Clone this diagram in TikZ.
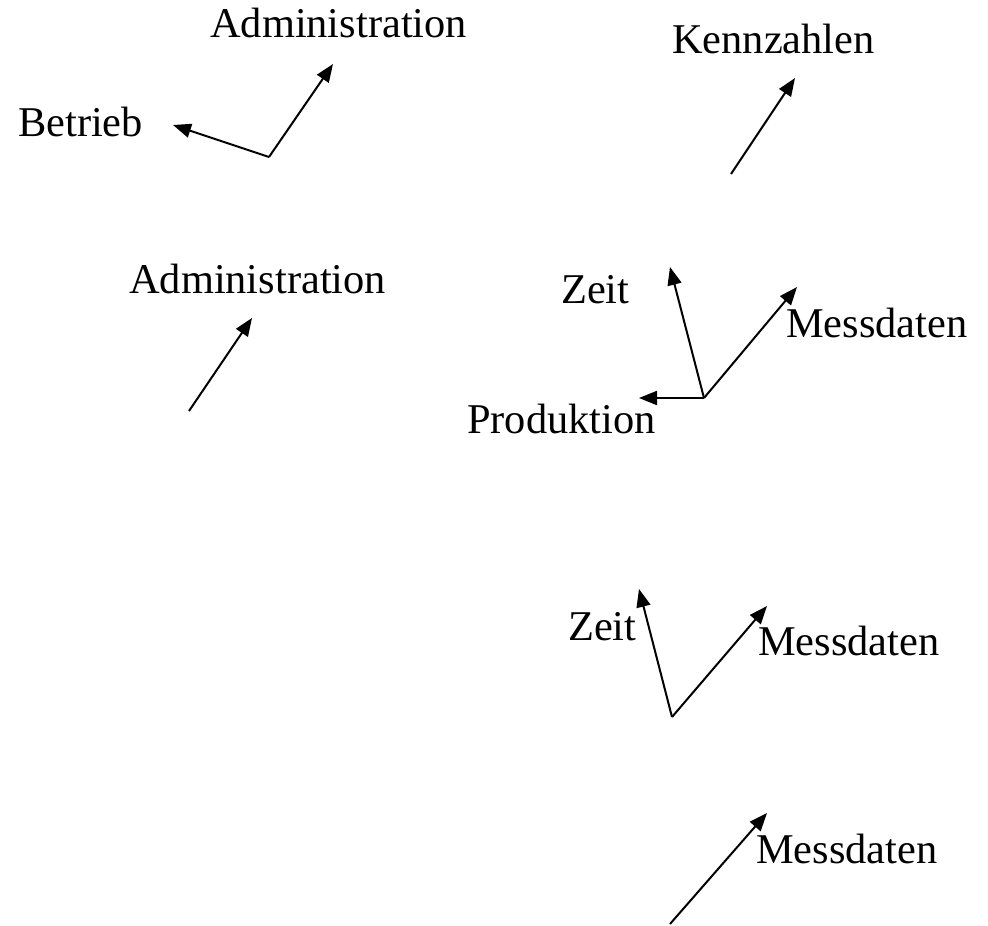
\documentclass[tikz,border=0pt]{standalone}
\usepackage{fontspec}
\setmainfont{Liberation Serif}
\usetikzlibrary{arrows.meta}
\begin{document}
\begin{tikzpicture}[x=1pt,y=-1pt,
  lbl/.style={anchor=base west,inner sep=0pt,font=\fontsize{42.4}{50}\selectfont},
  arr/.style={line width=2pt,-{Triangle[length=18pt,width=14pt]}}]
\useasboundingbox (0,0) rectangle (988,926);
% labels
\node[lbl] (adm1) at (210,37) {Administration};
\node[lbl] (betr) at (18,136) {Betrieb};
\node[lbl] (kenn) at (672,53) {Kennzahlen};
\node[lbl] (adm2) at (129,293) {Administration};
\node[lbl] (zeit1) at (561,303) {Zeit};
\node[lbl] (mess1) at (786,337) {Messdaten};
\node[lbl] (prod) at (467,433) {Produktion};
\node[lbl] (zeit2) at (568,640) {Zeit};
\node[lbl] (mess2) at (758,655) {Messdaten};
\node[lbl] (mess3) at (756,863) {Messdaten};
% coordinates
\coordinate (o1) at (269,157);
\coordinate (b1) at (173,125);
\coordinate (a1) at (333,64);
\coordinate (o2) at (731,174);
\coordinate (k2) at (795,78);
\coordinate (o3) at (189,411);
\coordinate (a3) at (252,318);
\coordinate (o4) at (704,398);
\coordinate (z4) at (670,267);
\coordinate (m4) at (797,287);
\coordinate (p4) at (639,398);
\coordinate (o5) at (672,717);
\coordinate (z5) at (639,589);
\coordinate (m5) at (767,606);
\coordinate (o6) at (670,924);
\coordinate (m6) at (767,813);
% arrows
\draw[arr] (o1) -- (b1);
\draw[arr] (o1) -- (a1);
\draw[arr] (o2) -- (k2);
\draw[arr] (o3) -- (a3);
\draw[arr] (o4) -- (z4);
\draw[arr] (o4) -- (m4);
\draw[arr] (o4) -- (p4);
\draw[arr] (o5) -- (z5);
\draw[arr] (o5) -- (m5);
\draw[arr] (o6) -- (m6);
\end{tikzpicture}
\end{document}
